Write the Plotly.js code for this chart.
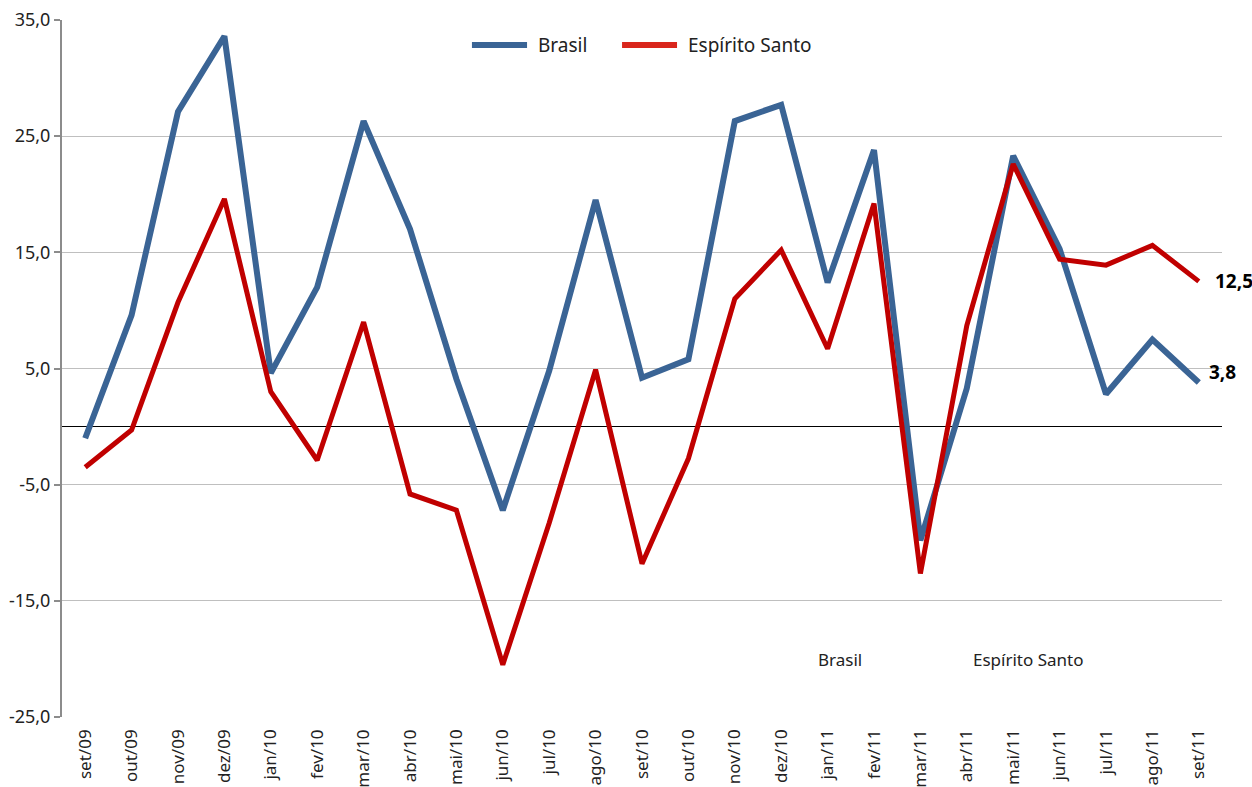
<!DOCTYPE html>
<html>
<head>
<meta charset="utf-8">
<script src="https://cdn.plot.ly/plotly-3.0.1.min.js"></script>
<style>html,body{margin:0;padding:0;background:#fff;}#chart{width:1252px;height:787px;}</style>
</head>
<body>
<div id="chart"></div>
<script>
const months = ["set/09","out/09","nov/09","dez/09","jan/10","fev/10","mar/10","abr/10","mai/10","jun/10","jul/10","ago/10","set/10","out/10","nov/10","dez/10","jan/11","fev/11","mar/11","abr/11","mai/11","jun/11","jul/11","ago/11","set/11"];
const brasil = [-1.0, 9.6, 27.1, 33.6, 4.6, 12.0, 26.3, 17.0, 4.1, -7.2, 4.8, 19.5, 4.2, 5.8, 26.3, 27.7, 12.4, 23.8, -9.8, 3.3, 23.3, 15.3, 2.8, 7.5, 3.8];
const espiritoSanto = [-3.5, -0.3, 10.7, 19.6, 3.0, -2.9, 9.0, -5.8, -7.2, -20.5, -8.3, 4.9, -11.8, -2.75, 11.0, 15.2, 6.7, 19.2, -12.65, 8.7, 22.6, 14.4, 13.9, 15.6, 12.5];
const yTicks = [-25, -15, -5, 5, 15, 25, 35];
const yTickText = ["-25,0", "-15,0", "-5,0", "5,0", "15,0", "25,0", "35,0"];
const seriesNames = ["Brasil", "Espírito Santo"];
const seriesColors = ["#3A6495", "#C00000"];
const legendColors = ["#3A6495", "#D9261C"];

const font = "Noto Sans, sans-serif";
const traces = [
  {x: months, y: brasil, name: seriesNames[0], type: "scatter", mode: "lines",
   line: {color: seriesColors[0], width: 6, shape: "linear"}},
  {x: months, y: espiritoSanto, name: seriesNames[1], type: "scatter", mode: "lines",
   line: {color: seriesColors[1], width: 5, shape: "linear"}}
];
const legX = [[0.3534, 0.4009, 0.4086], [0.4828, 0.5302, 0.5379]];
const legY = 0.964;
const shapes = legX.map((p, i) => ({type: "line", xref: "paper", yref: "paper",
  x0: p[0], x1: p[1], y0: legY, y1: legY, line: {color: legendColors[i], width: 6}}));
const legendText = legX.map((p, i) => ({x: p[2], y: legY, xref: "paper", yref: "paper",
  text: seriesNames[i], showarrow: false, xanchor: "left", yanchor: "middle",
  font: {family: font, size: 19, color: "#222"}}));

const layout = {
  width: 1252, height: 787,
  margin: {l: 62, r: 30, t: 20, b: 70},
  paper_bgcolor: "#fff", plot_bgcolor: "#fff",
  separators: ",.",
  font: {family: font, size: 17, color: "#222"},
  showlegend: false,
  xaxis: {type: "category", range: [-0.5, 24.5], tickangle: -90, showgrid: false, showline: false,
          ticks: "", zeroline: false, automargin: false, ticklabelstandoff: 8,
          tickfont: {family: font, size: 17, color: "#222"}},
  yaxis: {range: [-25, 35], tickmode: "array", tickvals: yTicks, ticktext: yTickText, showgrid: true,
          gridcolor: "#BFBFBF", gridwidth: 1, showline: true, linecolor: "#8C8C8C", linewidth: 2,
          ticks: "outside", ticklen: 6, tickcolor: "#8C8C8C", tickwidth: 2, automargin: false,
          zeroline: true, zerolinecolor: "#000", zerolinewidth: 1,
          tickfont: {family: font, size: 18, color: "#222"}},
  shapes: shapes,
  annotations: legendText.concat([
    {x: "set/11", y: 12.5, xref: "x", yref: "y", text: "<b>12,5</b>", showarrow: false,
     xanchor: "left", xshift: 14, font: {family: font, size: 19, color: "#000"}},
    {x: "set/11", y: 3.8, xref: "x", yref: "y", text: "<b>3,8</b>", showarrow: false,
     xanchor: "left", xshift: 8, yshift: 10, font: {family: font, size: 19, color: "#000"}},
    {x: 0.671, y: 0.082, xref: "paper", yref: "paper", text: "Brasil", showarrow: false,
     xanchor: "center", yanchor: "middle", font: {family: font, size: 17, color: "#222"}},
    {x: 0.833, y: 0.082, xref: "paper", yref: "paper", text: "Espírito Santo", showarrow: false,
     xanchor: "center", yanchor: "middle", font: {family: font, size: 17, color: "#222"}}
  ])
};
Plotly.newPlot("chart", traces, layout, {displayModeBar: false, staticPlot: true});
</script>
</body>
</html>
